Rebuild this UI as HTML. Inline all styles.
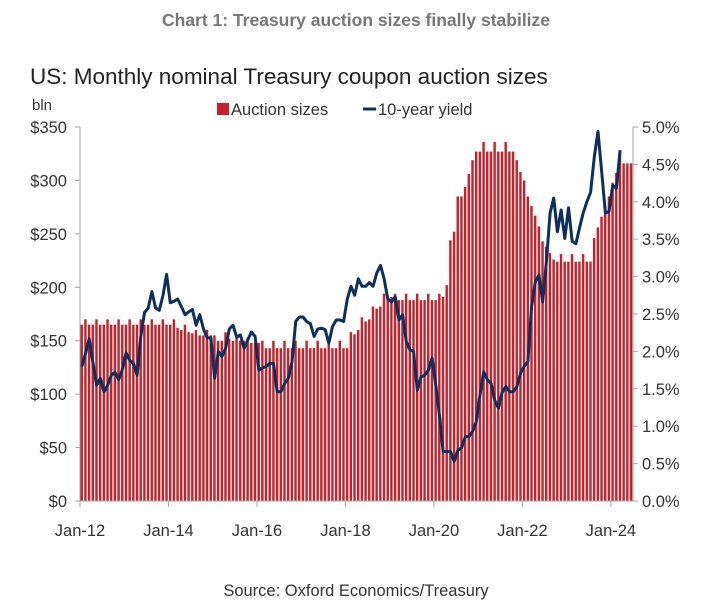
<!DOCTYPE html>
<html><head><meta charset="utf-8">
<style>
body{margin:0;background:#fff;width:712px;height:608px;overflow:hidden;font-family:"Liberation Sans",sans-serif;}
</style></head>
<body>
<svg id="chart" width="712" height="608" xmlns="http://www.w3.org/2000/svg" font-family="Liberation Sans, sans-serif">
<text x="356" y="26" text-anchor="middle" font-size="17.5" font-weight="bold" fill="#777">Chart 1: Treasury auction sizes finally stabilize</text>
<text x="30" y="84" font-size="22.5" fill="#222">US: Monthly nominal Treasury coupon auction sizes</text>
<text x="32" y="110" font-size="15" fill="#333">bln</text>
<g>
<rect x="217" y="103" width="12" height="12" fill="#c8202a"/>
<text x="231" y="115" font-size="16.5" fill="#333">Auction sizes</text>
<line x1="363" y1="109" x2="376" y2="109" stroke="#0d2f5e" stroke-width="3"/>
<text x="378" y="115" font-size="16.5" fill="#333">10-year yield</text>
</g>
<g id="bars"></g>
<g id="axes"></g>
<path id="yline" fill="none" stroke="#0d2f5e" stroke-width="3" stroke-linejoin="round"/>
<text x="356" y="596" text-anchor="middle" font-size="16.5" fill="#333">Source: Oxford Economics/Treasury</text>
</svg>
<script>
const auctionSizes = [
165,170,165,165,170,165,165,170,165,165,170,165,
165,170,165,165,170,165,165,170,165,165,170,165,
165,170,162,160,165,158,157,160,155,155,160,155,
155,150,150,158,152,150,155,150,150,153,148,148,
148,150,143,143,150,143,143,150,143,143,150,143,
143,150,143,143,150,143,143,150,143,143,150,143,
143,158,156,160,172,168,170,182,180,182,194,191,
191,194,188,188,194,188,188,194,188,188,194,188,
188,194,191,202,244,252,285,285,294,306,319,327,
327,336,327,327,336,327,327,336,327,327,319,308,
300,285,276,267,257,243,238,232,226,224,231,224,
224,231,224,224,231,224,224,246,256,266,276,285,
298,307,325,316,316,316];
const yield10 = [
1.80,1.97,2.17,1.85,1.55,1.64,1.46,1.55,1.68,1.72,1.62,1.76,
1.98,1.88,1.84,1.68,2.20,2.52,2.58,2.80,2.58,2.55,2.75,3.03,
2.65,2.67,2.70,2.60,2.49,2.53,2.56,2.35,2.49,2.30,2.18,2.18,
1.64,2.00,1.93,2.04,2.30,2.35,2.19,2.22,2.04,2.15,2.26,2.20,
1.75,1.78,1.80,1.84,1.84,1.46,1.46,1.57,1.64,1.86,2.40,2.46,
2.46,2.40,2.37,2.20,2.30,2.31,2.29,2.11,2.33,2.42,2.42,2.40,
2.70,2.87,2.75,2.97,2.87,2.87,2.92,2.87,3.05,3.15,2.97,2.70,
2.66,2.73,2.42,2.49,2.13,2.02,2.00,1.48,1.66,1.68,1.75,1.91,
1.55,1.15,0.66,0.66,0.66,0.53,0.68,0.71,0.86,0.86,0.93,1.06,
1.42,1.73,1.62,1.57,1.35,1.24,1.45,1.53,1.46,1.46,1.53,1.71,
1.80,1.87,2.60,2.93,3.02,2.66,3.20,3.85,4.05,3.60,3.89,3.51,
3.92,3.47,3.44,3.65,3.85,4.00,4.13,4.60,4.94,4.40,3.85,3.87,
4.22,4.18,4.69];
const leftTicks = [0,50,100,150,200,250,300,350];
const leftTickLabels = ["$0","$50","$100","$150","$200","$250","$300","$350"];
const rightTicks = [0,0.5,1,1.5,2,2.5,3,3.5,4,4.5,5];
const rightTickLabels = ["0.0%","0.5%","1.0%","1.5%","2.0%","2.5%","3.0%","3.5%","4.0%","4.5%","5.0%"];
const xTickMonths = [0,24,48,72,96,120,144];
const xTickLabels = ["Jan-12","Jan-14","Jan-16","Jan-18","Jan-20","Jan-22","Jan-24"];

const NS="http://www.w3.org/2000/svg";
const X0=80, X1=633, Y0=501, Y1=127, NM=150;
const band=(X1-X0)/NM;
const xPos=m=>X0+m*band;
const yL=v=>Y0-(v/350)*(Y0-Y1);
const yR=v=>Y0-(v/5)*(Y0-Y1);
function mk(tag,attrs,parent){const e=document.createElementNS(NS,tag);for(const k in attrs)e.setAttribute(k,attrs[k]);parent.appendChild(e);return e;}
const bars=document.getElementById('bars');
auctionSizes.forEach((v,i)=>{
  const r=mk('rect',{x:xPos(i)+0.5,y:yL(v),width:band*0.66,height:Y0-yL(v),fill:'#c8202a'},bars);
  
  
});
const ax=document.getElementById('axes');
const st='#a6a6a6';
let e=mk('line',{x1:X0,y1:Y1,x2:X0,y2:Y0,stroke:st,'stroke-width':1},ax);

e=mk('line',{x1:X1,y1:Y1,x2:X1,y2:Y0,stroke:st,'stroke-width':1},ax);

e=mk('line',{x1:X0,y1:Y0,x2:X1,y2:Y0,stroke:st,'stroke-width':1},ax);

leftTicks.forEach((v,i)=>{
  mk('line',{x1:X0-5,y1:yL(v),x2:X0,y2:yL(v),stroke:st},ax);
  const t=mk('text',{x:67,y:yL(v)+6,'text-anchor':'end','font-size':16.5,fill:'#333'},ax);
  t.textContent=leftTickLabels[i];
  
  
});
rightTicks.forEach((v,i)=>{
  mk('line',{x1:X1,y1:yR(v),x2:X1+5,y2:yR(v),stroke:st},ax);
  const t=mk('text',{x:642,y:yR(v)+6,'font-size':16.5,fill:'#333'},ax);
  t.textContent=rightTickLabels[i];
  
  
});
xTickMonths.forEach((m,i)=>{
  mk('line',{x1:xPos(m),y1:Y0,x2:xPos(m),y2:Y0+6,stroke:st},ax);
  const t=mk('text',{x:xPos(m),y:536,'text-anchor':'middle','font-size':16.5,fill:'#333'},ax);
  t.textContent=xTickLabels[i];
  
  
});
document.getElementById('yline').setAttribute('d',yield10.map((v,i)=>(i?'L':'M')+(xPos(i)+band/2).toFixed(1)+' '+yR(v).toFixed(1)).join(' '));
</script>
</body></html>
